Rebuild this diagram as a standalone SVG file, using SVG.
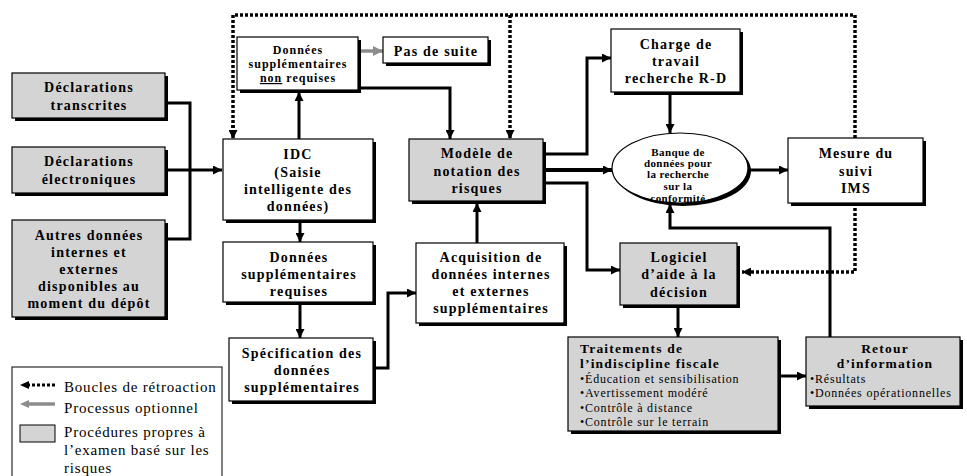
<svg xmlns="http://www.w3.org/2000/svg" width="967" height="476" viewBox="0 0 967 476">
<defs>
<style>
.bx{fill:#fff;stroke:#000;stroke-width:1.2}
.gy{fill:#d4d4d4;stroke:#000;stroke-width:1.2}
.sh{fill:#000}
.t{font-family:"Liberation Serif","Times New Roman",serif;font-weight:bold;font-size:14px;letter-spacing:1.2px;text-anchor:middle;fill:#000}
.th{font-family:"Liberation Serif","Times New Roman",serif;font-weight:bold;font-size:13.5px;letter-spacing:1.2px;fill:#000}
.ts{font-family:"Liberation Serif","Times New Roman",serif;font-weight:bold;font-size:12px;letter-spacing:1px;text-anchor:middle;fill:#000}
.te{font-family:"Liberation Serif","Times New Roman",serif;font-weight:bold;font-size:11px;letter-spacing:0.4px;text-anchor:middle;fill:#000}
.tb{font-family:"Liberation Serif","Times New Roman",serif;font-size:12px;letter-spacing:0.8px;fill:#000}
.tl{font-family:"Liberation Serif","Times New Roman",serif;font-size:15px;letter-spacing:0.8px;fill:#000}
.c{fill:none;stroke:#000;stroke-width:3;marker-end:url(#ah)}
.cn{fill:none;stroke:#000;stroke-width:3}
.d{fill:none;stroke:#000;stroke-width:3.5;stroke-dasharray:3 2}
.da{fill:none;stroke:#000;stroke-width:3.5;stroke-dasharray:3 2;marker-end:url(#ah)}
.g{fill:none;stroke:#8c8c8c;stroke-width:3.5;marker-end:url(#ag)}
</style>
<marker id="ah" viewBox="0 0 10 10" refX="10" refY="5" markerWidth="9" markerHeight="9" markerUnits="userSpaceOnUse" orient="auto"><path d="M0,0 L10,5 L0,10 z" fill="#000"/></marker>
<marker id="ag" viewBox="0 0 10 10" refX="10" refY="5" markerWidth="10" markerHeight="10" markerUnits="userSpaceOnUse" orient="auto"><path d="M0,0 L10,5 L0,10 z" fill="#8c8c8c"/></marker>
</defs>

<g id="connectors">
<path class="d" d="M855,138 V15 H233 V130"/>
<path class="da" d="M233,125 V139"/>
<path class="da" d="M510,15 V139"/>
<path class="da" d="M855,203 V272 H742"/>
<path class="cn" d="M165,103 H190 V239 H165"/>
<path class="c" d="M165,170 H222"/>
<path class="c" d="M299,139 V92"/>
<path class="g" d="M358,51 H383"/>
<path class="c" d="M358,88 H450 V139"/>
<path class="c" d="M300,220 V242"/>
<path class="c" d="M300,305 V338"/>
<path class="c" d="M373,368 H388 V293 H416"/>
<path class="c" d="M477,243 V203"/>
<path class="c" d="M543,154 H587 V58 H611"/>
<path class="c" d="M543,170 H612" style="stroke-width:4"/>
<path class="c" d="M543,183 H587 V270 H620"/>
<path class="c" d="M670,95 V133"/>
<path class="c" d="M748,170 H788"/>
<path class="c" d="M830,337 V228 H670 V204"/>
<path class="c" d="M678,308 V337"/>
<path class="c" d="M781,376 H806"/>
</g>

<g id="decl-transcrites">
<rect class="sh" x="15" y="76" width="153" height="45"/>
<rect class="gy" x="12" y="73" width="153" height="45"/>
<text class="t" x="89" y="92">Déclarations</text>
<text class="t" x="89" y="110">transcrites</text>
</g>

<g id="decl-electroniques">
<rect class="sh" x="15" y="150" width="153" height="46"/>
<rect class="gy" x="12" y="147" width="153" height="46"/>
<text class="t" x="89" y="166">Déclarations</text>
<text class="t" x="89" y="184">électroniques</text>
</g>

<g id="autres-donnees">
<rect class="sh" x="15" y="223" width="153" height="97"/>
<rect class="gy" x="12" y="220" width="153" height="97"/>
<text class="t" x="89" y="240">Autres données</text>
<text class="t" x="89" y="257">internes et</text>
<text class="t" x="89" y="274">externes</text>
<text class="t" x="89" y="291">disponibles au</text>
<text class="t" x="89" y="308">moment du dépôt</text>
</g>

<g id="idc">
<rect class="sh" x="226" y="142" width="150" height="81"/>
<rect class="bx" x="223" y="139" width="150" height="81"/>
<text class="t" x="298" y="159">IDC</text>
<text class="t" x="298" y="177">(Saisie</text>
<text class="t" x="298" y="194">intelligente des</text>
<text class="t" x="298" y="211">données)</text>
</g>

<g id="non-requises">
<rect class="sh" x="240" y="40" width="121" height="53"/>
<rect class="bx" x="237" y="37" width="121" height="53"/>
<text class="ts" x="298" y="54">Données</text>
<text class="ts" x="298" y="68">supplémentaires</text>
<text class="ts" x="298" y="82"><tspan text-decoration="underline">non</tspan> requises</text>
</g>

<g id="pas-de-suite">
<rect class="sh" x="386" y="40" width="105" height="26"/>
<rect class="bx" x="383" y="37" width="105" height="26"/>
<text class="t" x="436" y="56">Pas de suite</text>
</g>

<g id="modele">
<rect class="sh" x="412" y="142" width="134" height="62"/>
<rect class="gy" x="409" y="139" width="134" height="62"/>
<text class="t" x="477" y="158">Modèle de</text>
<text class="t" x="477" y="176">notation des</text>
<text class="t" x="477" y="193">risques</text>
</g>

<g id="charge">
<rect class="sh" x="614" y="32" width="129" height="63"/>
<rect class="bx" x="611" y="29" width="129" height="63"/>
<text class="t" x="676" y="49">Charge de</text>
<text class="t" x="676" y="66">travail</text>
<text class="t" x="676" y="83">recherche R-D</text>
</g>

<g id="banque">
<ellipse cx="683" cy="171" rx="68" ry="35" fill="#000"/>
<ellipse cx="680" cy="168" rx="68" ry="35" fill="#fff" stroke="#000" stroke-width="1.2"/>
<text class="te" x="678" y="156">Banque de</text>
<text class="te" x="678" y="167">données pour</text>
<text class="te" x="678" y="178">la recherche</text>
<text class="te" x="678" y="190">sur la</text>
<text class="te" x="678" y="202">conformité</text>
</g>

<g id="mesure">
<rect class="sh" x="791" y="141" width="135" height="65"/>
<rect class="bx" x="788" y="138" width="135" height="65"/>
<text class="t" x="856" y="158">Mesure du</text>
<text class="t" x="856" y="176">suivi</text>
<text class="t" x="856" y="193">IMS</text>
</g>

<g id="logiciel">
<rect class="sh" x="623" y="246" width="117" height="62"/>
<rect class="gy" x="620" y="243" width="117" height="62"/>
<text class="t" x="679" y="262">Logiciel</text>
<text class="t" x="679" y="279">d’aide à la</text>
<text class="t" x="679" y="297">décision</text>
</g>

<g id="requises">
<rect class="sh" x="226" y="245" width="150" height="60"/>
<rect class="bx" x="223" y="242" width="150" height="60"/>
<text class="t" x="299" y="262">Données</text>
<text class="t" x="299" y="279">supplémentaires</text>
<text class="t" x="299" y="296">requises</text>
</g>

<g id="specification">
<rect class="sh" x="232" y="341" width="144" height="63"/>
<rect class="bx" x="229" y="338" width="144" height="63"/>
<text class="t" x="302" y="358">Spécification des</text>
<text class="t" x="302" y="375">données</text>
<text class="t" x="302" y="392">supplémentaires</text>
</g>

<g id="acquisition">
<rect class="sh" x="419" y="246" width="148" height="80"/>
<rect class="bx" x="416" y="243" width="148" height="80"/>
<text class="t" x="491" y="262">Acquisition de</text>
<text class="t" x="491" y="279">données internes</text>
<text class="t" x="491" y="296">et externes</text>
<text class="t" x="491" y="313">supplémentaires</text>
</g>

<g id="traitements">
<rect class="sh" x="571" y="340" width="210" height="94"/>
<rect class="gy" x="568" y="337" width="210" height="94"/>
<text class="th" x="580" y="353">Traitements de</text>
<text class="th" x="580" y="368">l’indiscipline fiscale</text>
<text class="tb" x="580" y="383">•Éducation et sensibilisation</text>
<text class="tb" x="580" y="397">•Avertissement modéré</text>
<text class="tb" x="580" y="412">•Contrôle à distance</text>
<text class="tb" x="580" y="426">•Contrôle sur le terrain</text>
</g>

<g id="retour">
<rect class="sh" x="809" y="340" width="154" height="69"/>
<rect class="gy" x="806" y="337" width="154" height="69"/>
<text class="th" x="885" y="353" style="text-anchor:middle">Retour</text>
<text class="th" x="885" y="368" style="text-anchor:middle">d’information</text>
<text class="tb" x="810" y="383">•Résultats</text>
<text class="tb" x="810" y="397">•Données opérationnelles</text>
</g>

<g id="legend">
<rect x="12" y="367" width="210" height="115" fill="#fff" stroke="#000" stroke-width="1"/>
<path class="d" d="M55,385 H28" style="stroke-width:3"/>
<path d="M20,385 L29,381 L29,389 z" fill="#000"/>
<text class="tl" x="64" y="392">Boucles de rétroaction</text>
<path d="M55,404 H28" stroke="#8c8c8c" stroke-width="3.5" fill="none"/>
<path d="M20,404 L29,400 L29,408 z" fill="#8c8c8c"/>
<text class="tl" x="64" y="413">Processus optionnel</text>
<rect x="20" y="425" width="35" height="17" fill="#d4d4d4" stroke="#000" stroke-width="1"/>
<text class="tl" x="64" y="437">Procédures propres à</text>
<text class="tl" x="64" y="455">l’examen basé sur les</text>
<text class="tl" x="64" y="473">risques</text>
</g>
</svg>
